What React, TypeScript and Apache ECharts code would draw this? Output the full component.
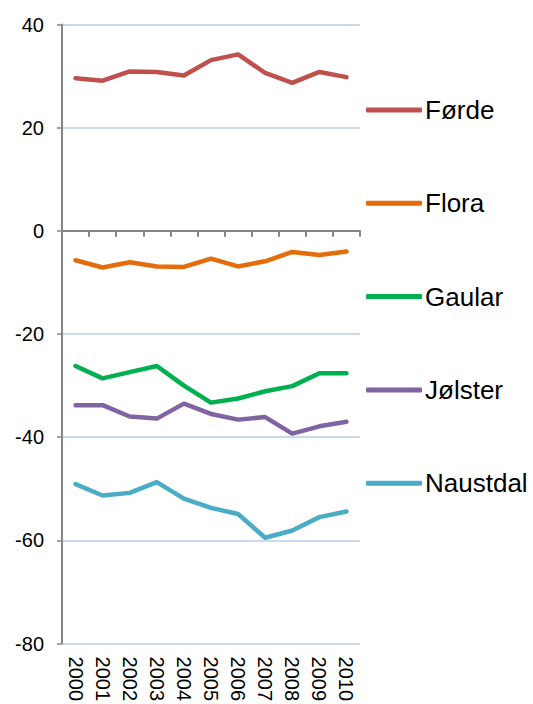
import React, { useEffect, useRef } from "react";
import * as echarts from "echarts";

const years = ["2000", "2001", "2002", "2003", "2004", "2005", "2006", "2007", "2008", "2009", "2010"];
const forde = [29.6, 29.1, 30.9, 30.8, 30.1, 33.1, 34.2, 30.6, 28.7, 30.8, 29.8];
const flora = [-5.7, -7.1, -6.1, -6.9, -7.0, -5.4, -6.9, -5.9, -4.1, -4.7, -4.0];
const gaular = [-26.2, -28.6, -27.4, -26.2, -30.0, -33.3, -32.5, -31.1, -30.1, -27.6, -27.6];
const jolster = [-33.8, -33.8, -36.0, -36.4, -33.5, -35.5, -36.6, -36.1, -39.3, -37.9, -37.0];
const naustdal = [-49.1, -51.3, -50.8, -48.7, -51.9, -53.7, -54.9, -59.5, -58.1, -55.5, -54.4];

const seriesDefs = [
  { name: "Førde", data: forde, color: "#C0504D" },
  { name: "Flora", data: flora, color: "#E46C0A" },
  { name: "Gaular", data: gaular, color: "#00B050" },
  { name: "Jølster", data: jolster, color: "#8064A2" },
  { name: "Naustdal", data: naustdal, color: "#4BACC6" },
];

const FONT = "'Liberation Sans', Arial, sans-serif";

export default function App() {
  const ref = useRef<HTMLDivElement>(null);
  useEffect(() => {
    if (!ref.current) return;
    const chart = echarts.init(ref.current, undefined, { renderer: "svg" });
    chart.setOption({
      animation: false,
      backgroundColor: "#ffffff",
      textStyle: { fontFamily: FONT },
      grid: { left: 62, right: 173, top: 24.5, bottom: 60, containLabel: false },
      legend: {
        orient: "vertical",
        left: 366,
        top: 95,
        padding: 0,
        itemWidth: 56,
        itemHeight: 5,
        itemGap: 63.3,
        icon: "roundRect",
        textStyle: { fontSize: 26, color: "#000", fontFamily: FONT, lineHeight: 30, padding: [0, 0, 0, -2] },
        data: seriesDefs.map((s) => s.name),
      },
      xAxis: [
        {
          type: "category",
          data: years,
          boundaryGap: true,
          position: "bottom",
          axisLine: { show: false, onZero: false },
          axisTick: { show: false },
          splitLine: { show: false },
          axisLabel: { rotate: -90, fontSize: 20, color: "#000", margin: 13, fontFamily: FONT, interval: 0 },
        },
        {
          type: "category",
          data: years,
          boundaryGap: true,
          position: "bottom",
          axisLine: { show: true, onZero: true, lineStyle: { color: "#868686", width: 2 } },
          axisTick: { show: true, length: 6, lineStyle: { color: "#868686", width: 2 }, interval: 0 },
          axisLabel: { show: false },
          splitLine: { show: false },
        },
      ],
      yAxis: {
        type: "value",
        min: -80,
        max: 40,
        interval: 20,
        axisLine: { show: true, lineStyle: { color: "#868686", width: 2 } },
        axisTick: { show: true, length: 5, lineStyle: { color: "#868686", width: 1.5 } },
        splitLine: { show: true, lineStyle: { color: "#B9CDE5", width: 1.5 } },
        axisLabel: { fontSize: 20, color: "#000", margin: 18, fontFamily: FONT },
      },
      series: seriesDefs.map((s) => ({
        name: s.name,
        type: "line",
        xAxisIndex: 0,
        data: s.data,
        showSymbol: false,
        symbol: "none",
        color: s.color,
        lineStyle: { color: s.color, width: 4.5, cap: "round", join: "round" },
      })),
    });
    return () => chart.dispose();
  }, []);
  return <div ref={ref} style={{ position: "fixed", left: 0, top: 0, width: 533, height: 704 }} />;
}
